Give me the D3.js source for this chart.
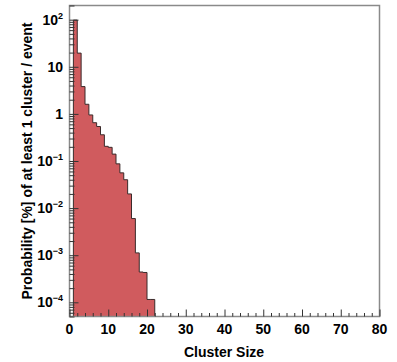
<!DOCTYPE html>
<html>
<head>
<meta charset="utf-8">
<script src="https://cdn.jsdelivr.net/npm/d3@7"></script>
<style>
  body { margin: 0; background: #fff; }
  text { font-family: "Liberation Sans", Arial, sans-serif; font-weight: bold; fill: #000; }
</style>
</head>
<body>
<div class="chart"></div>
<script>
// cluster size bins (lower edge, width 1) and probability [%]
const clusterSize = [1, 2, 3, 4, 5, 6, 7, 8, 9, 10, 11, 12, 13, 14, 15, 16, 17, 18, 19, 20, 21];
const probability = [98, 19.5, 3.8, 1.6, 0.95, 0.65, 0.54, 0.36, 0.205, 0.195, 0.14, 0.087, 0.056, 0.04, 0.02,
  0.006, 0.00112, 0.00044, 0.00043, 0.000115, 0.000115];
const xTicks = [0, 10, 20, 30, 40, 50, 60, 70, 80];
const yTicks = [1e-4, 1e-3, 1e-2, 1e-1, 1, 10, 100];
const yLabels = [["10", "\u22124"], ["10", "\u22123"], ["10", "\u22122"], ["10", "\u22121"], ["1", ""], ["10", ""], ["10", "2"]];

const W = 397, H = 362;
const frame = { left: 69.5, right: 379.5, top: 5.5, bottom: 316.5 };

const svg = d3.select('.chart').append('svg')
  .attr('width', W)
  .attr('height', H);

const x = d3.scaleLinear().domain([0, 80]).range([frame.left, frame.right]);
const y = d3.scaleLog().domain([5e-5, 200]).range([frame.bottom, frame.top]);

// histogram as a step area
const pts = [];
clusterSize.forEach((c, i) => {
  pts.push([c, probability[i]]);
  pts.push([c + 1, probability[i]]);
});
const area = d3.area()
  .x(d => x(d[0]))
  .y0(frame.bottom)
  .y1(d => y(d[1]));
svg.append('path')
  .attr('d', area(pts))
  .attr('fill', '#d05b5e');

const outline = [[clusterSize[0], 5e-5]].concat(pts, [[clusterSize[clusterSize.length - 1] + 1, 5e-5]]);
const line = d3.line().x(d => x(d[0])).y(d => Math.min(y(d[1]), frame.bottom));
svg.append('path')
  .attr('d', line(outline))
  .attr('fill', 'none')
  .attr('stroke', '#3b2b2b')
  .attr('stroke-width', 1);

// frame
svg.append('rect')
  .attr('x', frame.left).attr('y', frame.top)
  .attr('width', frame.right - frame.left)
  .attr('height', frame.bottom - frame.top)
  .attr('fill', 'none')
  .attr('stroke', '#8a8a8a')
  .attr('stroke-width', 1.5);

// y axis ticks (inward)
const yMinor = [];
for (let e = -5; e <= 2; e++) {
  for (let m = 2; m <= 9; m++) {
    const v = m * Math.pow(10, e);
    if (v >= 5e-5 && v <= 200) yMinor.push(v);
  }
}
const yAxisMajor = d3.axisLeft(y).tickValues(yTicks).tickSize(-9).tickFormat('');
const yAxisMinor = d3.axisLeft(y).tickValues(yMinor).tickSize(-5).tickFormat('');
[yAxisMajor, yAxisMinor].forEach(ax => {
  const g = svg.append('g').attr('transform', `translate(${frame.left},0)`).call(ax);
  g.select('.domain').remove();
  g.selectAll('line').attr('stroke', '#333').attr('stroke-width', 1);
});

// y tick labels with exponents
yTicks.forEach((v, i) => {
  const t = svg.append('text')
    .attr('x', 63)
    .attr('y', y(v) + 5)
    .attr('text-anchor', 'end')
    .style('font-size', '14px');
  t.append('tspan').text(yLabels[i][0]);
  if (yLabels[i][1]) {
    t.append('tspan').attr('dy', -6).style('font-size', '9px').text(yLabels[i][1]);
  }
});

// x axis ticks (inward)
const xMinor = d3.range(0, 81, 2).filter(v => v % 10 !== 0);
const xAxisMajor = d3.axisBottom(x).tickValues(xTicks).tickSize(-7).tickFormat('');
const xAxisMinor = d3.axisBottom(x).tickValues(xMinor).tickSize(-3.5).tickFormat('');
[xAxisMajor, xAxisMinor].forEach(ax => {
  const g = svg.append('g').attr('transform', `translate(0,${frame.bottom})`).call(ax);
  g.select('.domain').remove();
  g.selectAll('line').attr('stroke', '#333').attr('stroke-width', 1);
});

svg.selectAll('text.xlab')
  .data(xTicks)
  .enter().append('text')
  .attr('class', 'xlab')
  .attr('x', d => x(d))
  .attr('y', 334)
  .attr('text-anchor', 'middle')
  .style('font-size', '14px')
  .text(d => d);

// axis titles
svg.append('text')
  .attr('x', 224)
  .attr('y', 357)
  .attr('text-anchor', 'middle')
  .style('font-size', '14px')
  .text('Cluster Size');

svg.append('text')
  .attr('transform', 'rotate(-90)')
  .attr('x', -161)
  .attr('y', 32)
  .attr('text-anchor', 'middle')
  .style('font-size', '14px')
  .text('Probability [%] of at least 1 cluster / event');
</script>
</body>
</html>
